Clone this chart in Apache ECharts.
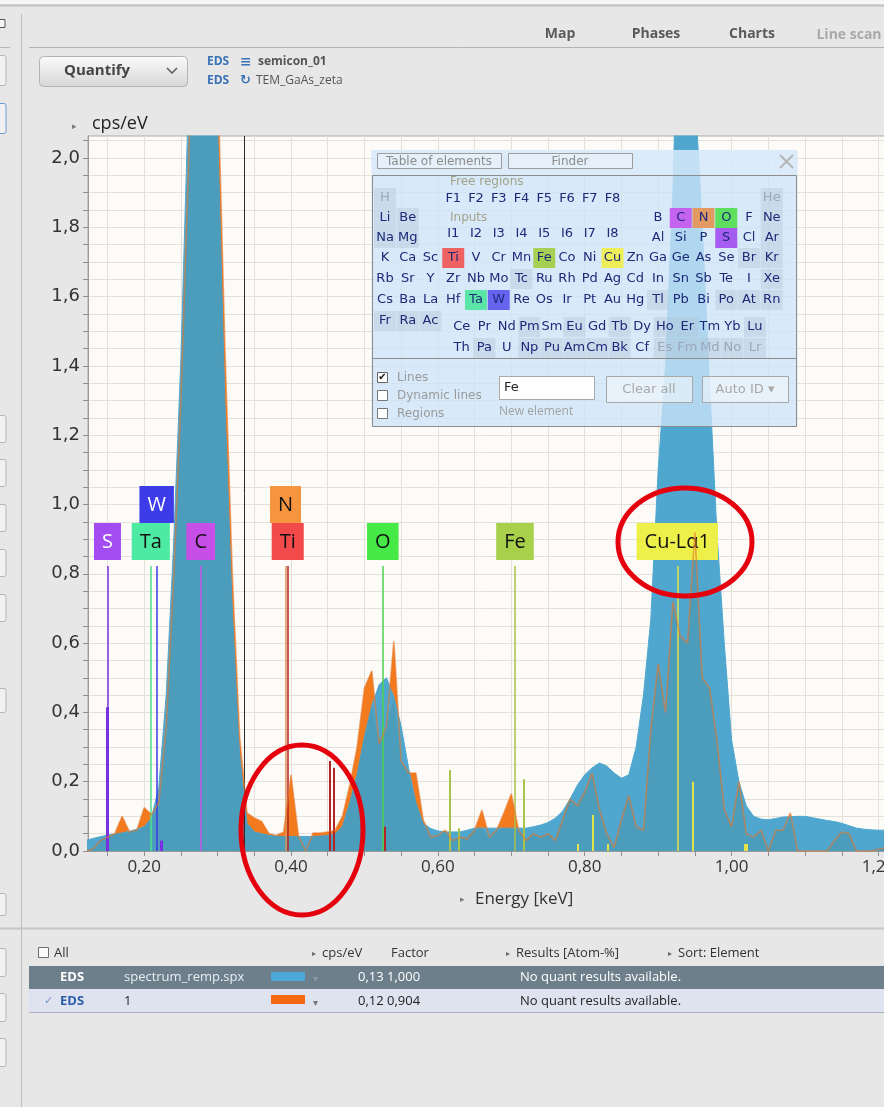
<!DOCTYPE html>
<html>
<head>
<meta charset="utf-8">
<script src="https://cdn.jsdelivr.net/npm/echarts@6/dist/echarts.min.js"></script>
<style>
  html, body { margin: 0; padding: 0; background: #e7e7e7; }
  #chart { width: 884px; height: 1107px; }
</style>
</head>
<body>
<div id="chart"></div>
<script>
// energy channels (keV)
const ENERGY = [
  0.12, 0.13, 0.14, 0.15, 0.16, 0.17, 0.18, 0.19, 0.20, 0.21,
  0.22, 0.23, 0.24, 0.25, 0.26, 0.27, 0.28, 0.29, 0.30, 0.31,
  0.32, 0.33, 0.34, 0.35, 0.36, 0.37, 0.38, 0.39, 0.40, 0.41,
  0.42, 0.43, 0.44, 0.45, 0.46, 0.47, 0.48, 0.49, 0.50, 0.51,
  0.52, 0.53, 0.54, 0.55, 0.56, 0.57, 0.58, 0.59, 0.60, 0.61,
  0.62, 0.63, 0.64, 0.65, 0.66, 0.67, 0.68, 0.69, 0.70, 0.71,
  0.72, 0.73, 0.74, 0.75, 0.76, 0.77, 0.78, 0.79, 0.80, 0.81,
  0.82, 0.83, 0.84, 0.85, 0.86, 0.87, 0.88, 0.89, 0.90, 0.91,
  0.92, 0.93, 0.94, 0.95, 0.96, 0.97, 0.98, 0.99, 1.00, 1.01,
  1.02, 1.03, 1.04, 1.05, 1.06, 1.07, 1.08, 1.09, 1.10, 1.11,
  1.12, 1.13, 1.14, 1.15, 1.16, 1.17, 1.18, 1.19, 1.20, 1.21
];
// spectrum_remp.spx (cps/eV)
const BLUE = [
  0.030, 0.036, 0.041, 0.046, 0.049, 0.052, 0.057, 0.063, 0.070, 0.095,
  0.186, 0.450, 0.880, 1.420, 2.150, 2.900, 3.300, 3.000, 2.100, 1.290,
  0.700, 0.280, 0.080, 0.055, 0.050, 0.045, 0.043, 0.042, 0.042, 0.042,
  0.042, 0.042, 0.043, 0.045, 0.050, 0.070, 0.140, 0.220, 0.330, 0.420,
  0.480, 0.500, 0.445, 0.360, 0.240, 0.140, 0.080, 0.065, 0.058, 0.055,
  0.055, 0.055, 0.060, 0.066, 0.066, 0.066, 0.066, 0.066, 0.066, 0.066,
  0.066, 0.070, 0.075, 0.082, 0.095, 0.115, 0.150, 0.190, 0.220, 0.240,
  0.254, 0.245, 0.225, 0.210, 0.220, 0.300, 0.450, 0.670, 1.100, 1.400,
  1.900, 2.700, 3.000, 2.200, 1.800, 1.350, 0.920, 0.600, 0.320, 0.200,
  0.130, 0.100, 0.092, 0.090, 0.094, 0.098, 0.099, 0.100, 0.100, 0.096,
  0.092, 0.088, 0.085, 0.080, 0.073, 0.066, 0.063, 0.061, 0.060, 0.060
];
// spectrum "1" (cps/eV)
const ORANGE = [
  0.000, 0.005, 0.030, 0.040, 0.050, 0.100, 0.055, 0.060, 0.125, 0.105,
  0.140, 0.360, 0.780, 1.300, 1.950, 2.650, 3.300, 3.050, 2.250, 1.450,
  0.800, 0.330, 0.110, 0.095, 0.085, 0.050, 0.045, 0.055, 0.220, 0.045,
  0.000, 0.052, 0.052, 0.055, 0.060, 0.100, 0.190, 0.300, 0.470, 0.520,
  0.310, 0.360, 0.605, 0.260, 0.225, 0.225, 0.090, 0.040, 0.045, 0.060,
  0.030, 0.040, 0.035, 0.060, 0.118, 0.040, 0.060, 0.110, 0.165, 0.060,
  0.030, 0.050, 0.040, 0.050, 0.030, 0.090, 0.150, 0.130, 0.170, 0.225,
  0.120, 0.050, 0.010, 0.090, 0.160, 0.070, 0.060, 0.350, 0.540, 0.400,
  0.720, 0.620, 0.600, 0.920, 0.500, 0.470, 0.320, 0.120, 0.070, 0.200,
  0.050, 0.040, 0.060, 0.000, 0.060, 0.060, 0.110, 0.000, 0.000, 0.000,
  0.000, 0.000, 0.030, 0.055, 0.050, 0.000, 0.000, 0.000, 0.005, 0.010
];

// element line markers
const LINE_EL     = ['S', 'S', 'Ta', 'W', 'S', 'C', 'N', 'Ti', 'Ti', 'Ti', 'O', 'Ti', 'Fe', 'Fe', 'Fe', 'Fe', 'Cu', 'Cu', 'Cu', 'Cu', 'Cu', 'Cu', 'Cu'];
const LINE_ENERGY = [0.150, 0.150, 0.209, 0.217, 0.2235, 0.277, 0.3925, 0.3955, 0.4525, 0.458, 0.525, 0.527, 0.6157, 0.628, 0.705, 0.717, 0.791, 0.811, 0.831, 0.926, 0.947, 1.018, 1.021];
const LINE_HEIGHT = [0.8225, 0.415, 0.8225, 0.8225, 0.03, 0.8225, 0.8225, 0.8225, 0.26, 0.24, 0.8225, 0.07, 0.234, 0.066, 0.8225, 0.207, 0.02, 0.104, 0.02, 0.8225, 0.20, 0.02, 0.02];
const LINE_LABEL  = ['S', '', 'Ta', 'W', '', 'C', 'N', 'Ti', '', '', 'O', '', '', '', 'Fe', '', '', '', '', 'Cu-Lα1', '', '', ''];
const MARKER_E = 0.3358;

const X_LABELS = [0.2, 0.4, 0.6, 0.8, 1.0, 1.2];
const Y_LABELS = [0, 0.2, 0.4, 0.6, 0.8, 1.0, 1.2, 1.4, 1.6, 1.8, 2.0];
const X_MIN = 0.1235, X_MAX = 1.2089, Y_MAX = 2.0635;

// minor grid every 0.05
const X_TICKS = [], Y_TICKS = [];
for (let i = 3; i <= 24; i++) X_TICKS.push(+(i * 0.05).toFixed(2));
for (let i = 0; i <= 41; i++) Y_TICKS.push(+(i * 0.05).toFixed(2));

const EL_STYLE = {
  S:  { line: '#7a2fe0', box: '#a24cf2', text: '#ffffff', row: 1 },
  Ta: { line: '#4ce08c', box: '#4ceaa2', text: '#111111', row: 1 },
  W:  { line: '#3a3ae6', box: '#3c3ce8', text: '#ffffff', row: 2 },
  C:  { line: '#c455e6', box: '#c84ee8', text: '#111111', row: 1 },
  N:  { line: '#d9935a', box: '#f7953f', text: '#111111', row: 2 },
  Ti: { line: '#b52424', box: '#f24a4a', text: '#111111', row: 1 },
  O:  { line: '#4cd24c', box: '#46ea46', text: '#111111', row: 1 },
  Fe: { line: '#a9c24a', box: '#a8d04a', text: '#111111', row: 1 },
  Cu: { line: '#e2e24a', box: '#eef04a', text: '#111111', row: 1 }
};

const pairs = (ys) => ENERGY.map((e, i) => [e, ys[i]]);
const UNDER = ORANGE.map((v, i) => Math.min(v, BLUE[i]));

const markLines = LINE_ENERGY.map((e, i) => {
  const st = EL_STYLE[LINE_EL[i]];
  const stem = LINE_HEIGHT[i] > 0.8;
  const thick = LINE_EL[i] === 'S' && !stem;
  return [
    {
      coord: [e, 0],
      lineStyle: { color: st.line, width: thick ? 3 : (stem ? 1.5 : 2), type: 'solid', opacity: 1 },
      label: LINE_LABEL[i] ? {
        show: true, position: 'end', formatter: LINE_LABEL[i],
        distance: st.row === 2 ? 43 : 6,
        backgroundColor: st.box, color: st.text,
        fontFamily: 'Open Sans', fontSize: 20, lineHeight: 22,
        padding: [8, 8, 7, 8]
      } : { show: false }
    },
    { coord: [e, LINE_HEIGHT[i]] }
  ];
});
markLines.push([
  { coord: [MARKER_E, 0], lineStyle: { color: '#2a2a2a', width: 1, type: 'solid' }, label: { show: false } },
  { coord: [MARKER_E, Y_MAX] }
]);

// ---------- UI chrome helpers ----------
const UI = '"Open Sans"';
const VD = '"DejaVu Sans"';
function T(x, y, text, font, fill, align, z) {
  return { type: 'text', x: x, y: y, z: z || 10, silent: true,
    style: { text: text, font: font, fill: fill, align: align || 'left', textAlign: align || 'left',
             verticalAlign: 'middle', textVerticalAlign: 'middle' } };
}
function R(x, y, w, h, fill, stroke, z, r) {
  return { type: 'rect', z: z || 10, silent: true, shape: { x: x, y: y, width: w, height: h, r: r || 0 },
    style: { fill: fill || 'none', stroke: stroke || null, lineWidth: 1 } };
}
function L(x1, y1, x2, y2, stroke, w, z) {
  return { type: 'line', z: z || 10, silent: true, shape: { x1: x1, y1: y1, x2: x2, y2: y2 },
    style: { stroke: stroke, lineWidth: w || 1 } };
}

const G = [];
// window frame
G.push(R(0, 0, 884, 4, '#f6f6f6'));
G.push(L(0, 5.5, 884, 5.5, '#c2c2c2', 2));
G.push(L(21.5, 14, 21.5, 1107, '#bdbdbd', 1));
G.push(L(0, 47.5, 10, 47.5, '#b8b8b8', 1));
G.push(L(29, 47.5, 884, 47.5, '#b4b4b4', 1));
G.push(R(-3, 19.5, 8, 8, '#f4f4f4', '#555555'));
[[55, 30], [415, 27], [459, 27], [504, 27], [549, 27], [594, 27], [688, 24], [893, 22], [948, 28], [993, 28], [1038, 28]]
  .forEach(b => G.push(R(-4, b[0] + 0.5, 10, b[1], '#f1f1f1', '#b6b6b6', 10, 2)));
G.push(R(-4, 103.5, 10, 30, '#f1f1f1', '#6d9ad6', 10, 2));

// tabs
G.push(T(560, 34, 'Map', 'bold 14px ' + UI, '#5a5a5a', 'center'));
G.push(T(656, 34, 'Phases', 'bold 14px ' + UI, '#5a5a5a', 'center'));
G.push(T(752, 34, 'Charts', 'bold 14px ' + UI, '#5a5a5a', 'center'));
G.push(T(849, 35, 'Line scan', 'bold 14px ' + UI, '#a9a9a9', 'center'));

// Quantify button
G.push({ type: 'rect', z: 10, silent: true, shape: { x: 39.5, y: 56.5, width: 148, height: 30, r: 4 },
  style: { stroke: '#b4b4b4', lineWidth: 1,
    fill: new echarts.graphic.LinearGradient(0, 0, 0, 1, [{ offset: 0, color: '#fbfbfb' }, { offset: 1, color: '#d6d6d6' }]) } });
G.push(T(64, 71, 'Quantify', 'bold 15px ' + UI, '#454545'));
G.push({ type: 'polyline', z: 11, silent: true, shape: { points: [[167, 68], [172, 73], [177, 68]] },
  style: { stroke: '#555', lineWidth: 1.4, fill: 'none' } });
G.push(T(207, 62, 'EDS', 'bold 12px ' + UI, '#3a72b8'));
G.push(T(240, 62, '≡', 'bold 14px ' + VD, '#3a72b8'));
G.push(T(258, 62, 'semicon_01', 'bold 12px ' + UI, '#555555'));
G.push(T(207, 81, 'EDS', 'bold 12px ' + UI, '#3a72b8'));
G.push(T(240, 81, '↻', 'bold 13px ' + VD, '#3a72b8'));
G.push(T(256, 81, 'TEM_GaAs_zeta', '12px ' + UI, '#555555'));

// axis captions
G.push(T(72, 127, '▸', '9px ' + VD, '#777'));
G.push(T(92, 124, 'cps/eV', '18px ' + UI, '#222'));
G.push(T(460, 900, '▸', '9px ' + VD, '#777'));
G.push(T(475, 899, 'Energy [keV]', '17px ' + UI, '#333'));

// lower table
G.push(L(0, 928.5, 884, 928.5, '#c6c6c6', 2));
G.push(R(38.5, 947.5, 10, 10, '#fafafa', '#6e6e6e'));
G.push(T(54, 953, 'All', '13px ' + UI, '#333'));
G.push(T(312, 954, '▸', '8px ' + VD, '#666'));
G.push(T(322, 953, 'cps/eV', '13px ' + UI, '#333'));
G.push(T(391, 953, 'Factor', '13px ' + UI, '#333'));
G.push(T(506, 954, '▸', '8px ' + VD, '#666'));
G.push(T(516, 953, 'Results [Atom-%]', '13px ' + UI, '#333'));
G.push(T(668, 954, '▸', '8px ' + VD, '#666'));
G.push(T(678, 953, 'Sort: Element', '13px ' + UI, '#333'));
G.push(R(29, 966, 855, 23, '#6d7f8b'));
G.push(R(29, 989, 855, 23, '#dfe3f0'));
G.push(L(29, 1012.5, 884, 1012.5, '#a9b0c6', 1));
G.push(T(60, 977, 'EDS', 'bold 13px ' + UI, '#ffffff'));
G.push(T(124, 977, 'spectrum_remp.spx', '13px ' + UI, '#e8eef2'));
G.push(R(271, 972, 34, 9, '#4aa9d9'));
G.push(T(313, 979, '▾', '10px ' + VD, '#8b9aa5'));
G.push(T(358, 977, '0,13 1,000', '13px ' + UI, '#ffffff'));
G.push(T(520, 977, 'No quant results available.', '13px ' + UI, '#ffffff'));
G.push(T(44, 1001, '✓', '11px ' + VD, '#7a96c0'));
G.push(T(60, 1001, 'EDS', 'bold 13px ' + UI, '#2c5ca8'));
G.push(T(124, 1001, '1', '13px ' + UI, '#222'));
G.push(R(271, 995, 34, 9, '#f56a10'));
G.push(T(313, 1003, '▾', '10px ' + VD, '#777'));
G.push(T(358, 1001, '0,12 0,904', '13px ' + UI, '#222'));
G.push(T(520, 1001, 'No quant results available.', '13px ' + UI, '#222'));

// ---------- periodic table popup ----------
const PZ = 100;
G.push(R(371.5, 150, 426, 277, 'rgba(205,228,248,0.78)', null, PZ));
G.push(R(371.5, 150, 426, 25, 'rgba(230,242,252,0.35)', null, PZ));
G.push(R(372.5, 175.5, 424, 251, 'none', '#8c8c8c', PZ + 1));
G.push(L(372.5, 358.5, 796.5, 358.5, '#8c8c8c', 1, PZ + 1));
G.push(R(377.5, 153.5, 124, 15, 'rgba(240,246,252,0.5)', '#9c9c9c', PZ + 1));
G.push(T(439, 161.5, 'Table of elements', '12px ' + VD, '#8c8c8c', 'center', PZ + 2));
G.push(R(508.5, 153.5, 124, 15, 'rgba(240,246,252,0.5)', '#9c9c9c', PZ + 1));
G.push(T(570, 161.5, 'Finder', '12px ' + VD, '#8c8c8c', 'center', PZ + 2));
G.push(L(780, 155, 793, 168, '#b5b5b5', 2, PZ + 1));
G.push(L(780, 168, 793, 155, '#b5b5b5', 2, PZ + 1));

const PT_ROWS = [
  [198, 'H . . . . . . . . . . . . . . . . He'],
  [218, 'Li Be . . . . . . . . . . B C N O F Ne'],
  [238, 'Na Mg . . . . . . . . . . Al Si P S Cl Ar'],
  [258, 'K Ca Sc Ti V Cr Mn Fe Co Ni Cu Zn Ga Ge As Se Br Kr'],
  [279, 'Rb Sr Y Zr Nb Mo Tc Ru Rh Pd Ag Cd In Sn Sb Te I Xe'],
  [300, 'Cs Ba La Hf Ta W Re Os Ir Pt Au Hg Tl Pb Bi Po At Rn'],
  [321, 'Fr Ra Ac']
];
const PT_F = [199, '. . . F1 F2 F3 F4 F5 F6 F7 F8'];
const PT_I = [234, '. . . I1 I2 I3 I4 I5 I6 I7 I8'];
const PT_LAN = [327, 'Ce Pr Nd Pm Sm Eu Gd Tb Dy Ho Er Tm Yb Lu'];
const PT_ACT = [348, 'Th Pa U Np Pu Am Cm Bk Cf Es Fm Md No Lr'];
const PT_HI = { C: '#c464ee', N: '#e29a62', O: '#5ee05e', S: '#a65cf0', Ti: '#ee6262', Fe: '#a6d054', Cu: '#eeee5a', Ta: '#5ae6a6', W: '#6464ee' };
const PT_GRAY = ['H', 'He', 'Li', 'Be', 'Na', 'Mg', 'Ne', 'Ar', 'Br', 'Kr', 'Xe', 'Tc', 'Tl', 'Po', 'At', 'Rn', 'Fr', 'Ra', 'Ac',
  'Pm', 'Eu', 'Tb', 'Ho', 'Er', 'Lu', 'Pa', 'Np', 'Pu', 'Am', 'Cm', 'Bk', 'Es', 'Fm', 'Md', 'No', 'Lr'];
const PT_DIM = ['H', 'He', 'Es', 'Fm', 'Md', 'No', 'Lr'];

function ptCell(sym, cx, cy) {
  if (sym === '.') return;
  if (PT_HI[sym]) G.push(R(cx - 11, cy - 10, 22, 20, PT_HI[sym], null, PZ + 1));
  else if (PT_GRAY.indexOf(sym) >= 0) G.push(R(cx - 11, cy - 10, 22, 20, 'rgba(176,192,210,0.35)', null, PZ + 1));
  G.push(T(cx, cy, sym, '13px ' + VD, PT_DIM.indexOf(sym) >= 0 ? '#9aa8ba' : '#1c2a78', 'center', PZ + 2));
}
PT_ROWS.concat([PT_F, PT_I]).forEach(r => r[1].split(' ').forEach((s, i) => ptCell(s, 385 + i * 22.75, r[0])));
[PT_LAN, PT_ACT].forEach(r => r[1].split(' ').forEach((s, i) => ptCell(s, 461.7 + i * 22.56, r[0])));
G.push(T(450, 182, 'Free regions', '12px ' + VD, '#a3a38a', 'left', PZ + 2));
G.push(T(450, 218, 'Inputs', '12px ' + VD, '#a3a38a', 'left', PZ + 2));

// popup controls
G.push(R(377.5, 372.5, 10, 10, '#ffffff', '#666', PZ + 1));
G.push(T(382.5, 377.5, '✔', 'bold 10px ' + VD, '#111', 'center', PZ + 2));
G.push(T(397, 378, 'Lines', '12px ' + VD, '#9a9a9a', 'left', PZ + 2));
G.push(R(377.5, 390.5, 10, 10, '#ffffff', '#777', PZ + 1));
G.push(T(397, 396, 'Dynamic lines', '12px ' + VD, '#9a9a9a', 'left', PZ + 2));
G.push(R(377.5, 408.5, 10, 10, '#ffffff', '#777', PZ + 1));
G.push(T(397, 414, 'Regions', '12px ' + VD, '#9a9a9a', 'left', PZ + 2));
G.push(R(499.5, 376.5, 95, 23, '#ffffff', '#a8a8a8', PZ + 1));
G.push(T(504, 388, 'Fe', '13px ' + VD, '#222', 'left', PZ + 2));
G.push(T(499, 412, 'New element', '12px ' + UI, '#a2a2a2', 'left', PZ + 2));
G.push(R(606.5, 376.5, 86, 26, 'rgba(244,248,252,0.6)', '#a8a8a8', PZ + 1));
G.push(T(649, 390, 'Clear all', '13px ' + VD, '#a8a8a8', 'center', PZ + 2));
G.push(R(702.5, 376.5, 86, 26, 'rgba(244,248,252,0.6)', '#a8a8a8', PZ + 1));
G.push(T(745, 390, 'Auto ID ▾', '13px ' + VD, '#a8a8a8', 'center', PZ + 2));

// red annotation ellipses
G.push({ type: 'ellipse', z: 120, silent: true, shape: { cx: 302, cy: 830, rx: 61, ry: 85 },
  style: { fill: 'none', stroke: '#e5000e', lineWidth: 5 } });
G.push({ type: 'ellipse', z: 120, silent: true, shape: { cx: 685, cy: 542, rx: 67, ry: 54 },
  style: { fill: 'none', stroke: '#e5000e', lineWidth: 5 } });

const fmt = (d) => (v) => v.toFixed(d).replace('.', ',');

const option = {
  backgroundColor: '#e7e7e7',
  animation: false,
  grid: { left: 88, top: 136, width: 797, height: 715, show: true, outerBoundsMode: 'none', containLabel: false,
    backgroundColor: '#fcfbf8', borderColor: '#a9a9a9', borderWidth: 1 },
  xAxis: {
    type: 'value', min: X_MIN, max: X_MAX,
    axisLine: { show: true, lineStyle: { color: '#9a9a9a' } },
    axisTick: { show: true, customValues: X_TICKS, length: 5, lineStyle: { color: '#8f8f8f' } },
    axisLabel: { customValues: X_LABELS, formatter: fmt(2), fontFamily: 'Open Sans', fontSize: 17, color: '#333', margin: 8 },
    splitLine: { show: true, lineStyle: { color: '#e4e1db', width: 1 } }
  },
  yAxis: {
    type: 'value', min: 0, max: Y_MAX,
    axisLine: { show: true, lineStyle: { color: '#9a9a9a' } },
    axisTick: { show: true, customValues: Y_TICKS, length: 5, lineStyle: { color: '#8f8f8f' } },
    axisLabel: { customValues: Y_LABELS, formatter: fmt(1), fontFamily: 'DejaVu Sans', fontSize: 18, color: '#333', margin: 8 },
    splitLine: { show: true, lineStyle: { color: '#e4e1db', width: 1 } }
  },
  series: [
    { name: '1', type: 'line', data: pairs(ORANGE), z: 2, symbol: 'none', silent: true,
      lineStyle: { width: 0, opacity: 0 }, areaStyle: { color: '#f47a1e', opacity: 1 } },
    { name: 'spectrum_remp.spx', type: 'line', data: pairs(BLUE), z: 3, symbol: 'none', silent: true,
      lineStyle: { color: '#4fa7cf', width: 1 }, areaStyle: { color: '#4fa7cf', opacity: 1 } },
    { name: 'overlap', type: 'line', data: pairs(UNDER), z: 4, symbol: 'none', silent: true,
      lineStyle: { width: 0, opacity: 0 }, areaStyle: { color: 'rgba(60,70,30,0.15)' } },
    { name: '1 line', type: 'line', data: pairs(ORANGE), z: 5, symbol: 'none', silent: true,
      lineStyle: { color: 'rgba(230,118,40,0.6)', width: 1.6 } },
    { name: 'lines', type: 'line', data: [], z: 6, silent: true,
      markLine: { silent: true, symbol: ['none', 'none'], animation: false, data: markLines } }
  ],
  graphic: { elements: G }
};

const chart = echarts.init(document.getElementById('chart'), null, { renderer: 'canvas' });
chart.setOption(option);
</script>
</body>
</html>
